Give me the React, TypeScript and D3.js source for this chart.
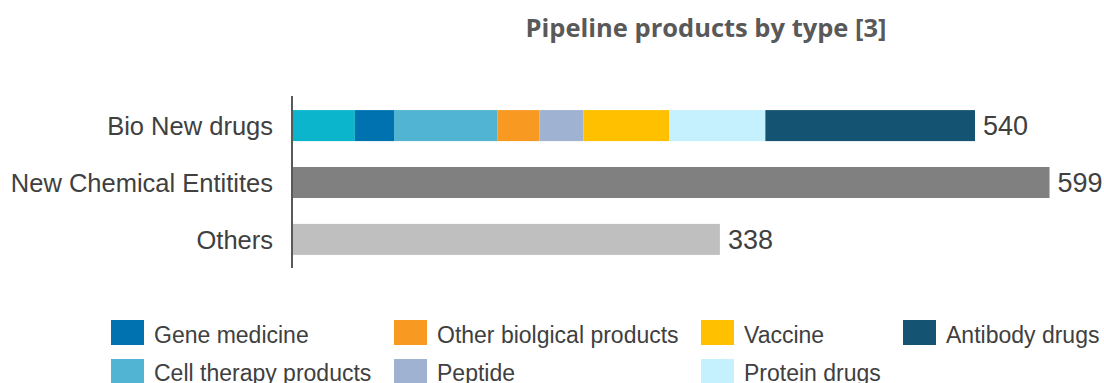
import React from "react";
import * as d3 from "d3";

const categories = ["Bio New drugs", "New Chemical Entitites", "Others"];
const seriesNames = ["Other", "Gene medicine", "Cell therapy products", "Other biolgical products", "Peptide", "Vaccine", "Protein drugs", "Antibody drugs"];
const bioValues = [49, 31, 82, 33, 35, 68, 76, 166];
const totals = [540, 599, 338];
const seriesColors = ["#0BB5CC", "#0072B0", "#50B4D2", "#F89A21", "#9FB2D1", "#FFC000", "#C5F0FD", "#145372"];
const singleColors = ["", "#808080", "#BFBFBF"];
const legendItems = [
  { name: "Gene medicine", idx: 1, col: 0, row: 0 },
  { name: "Cell therapy products", idx: 2, col: 0, row: 1 },
  { name: "Other biolgical products", idx: 3, col: 1, row: 0 },
  { name: "Peptide", idx: 4, col: 1, row: 1 },
  { name: "Vaccine", idx: 5, col: 2, row: 0 },
  { name: "Protein drugs", idx: 6, col: 2, row: 1 },
  { name: "Antibody drugs", idx: 7, col: 3, row: 0 },
];

export default function App() {
  const W = 1104, H = 383;
  const x0 = 293;
  const x = d3.scaleLinear().domain([0, 540]).range([x0, 975]);
  const y = d3.scaleBand().domain(categories).range([97, 268]).paddingInner(0.455).paddingOuter(0.23);
  const stacked = d3.cumsum([0, ...bioValues]);
  const colX = [111, 394, 701, 903];
  const font = "Arial, 'Liberation Sans', sans-serif";
  return (
    <svg width={W} height={H} style={{ position: "absolute", left: 0, top: 0, background: "#fff" }}>
      <text x={706} y={36.5} textAnchor="middle" fontFamily="'Open Sans', sans-serif" fontWeight="bold" fontSize={25.5} fill="#595959">Pipeline products by type [3]</text>
      {categories.map((c, i) => {
        const yy = y(c)!;
        const bh = y.bandwidth();
        return (
          <g key={c}>
            {i === 0 ? bioValues.map((v, j) => (
              <rect key={j} x={x(stacked[j])} y={yy} width={x(stacked[j + 1]) - x(stacked[j])} height={bh} fill={seriesColors[j]} />
            )) : (
              <rect x={x(0)} y={yy} width={x(totals[i]) - x(0)} height={bh} fill={singleColors[i]} />
            )}
            <text x={x(totals[i]) + 8} y={yy + bh / 2} dy="0.36em" fontFamily={font} fontSize={27} fill="#404040">{totals[i]}</text>
            <text x={273} y={yy + bh / 2} dy="0.36em" textAnchor="end" fontFamily={font} fontSize={25.5} fill="#404040">{c}</text>
          </g>
        );
      })}
      <line x1={292} x2={292} y1={96} y2={268} stroke="#595959" strokeWidth={2} />
      {legendItems.map((l) => (
        <g key={l.name}>
          <rect x={colX[l.col]} y={320 + l.row * 39} width={33} height={25} fill={seriesColors[l.idx]} />
          <text x={colX[l.col] + 43} y={343 + l.row * 38} fontFamily={font} fontSize={23} fill="#404040">{l.name}</text>
        </g>
      ))}
    </svg>
  );
}
